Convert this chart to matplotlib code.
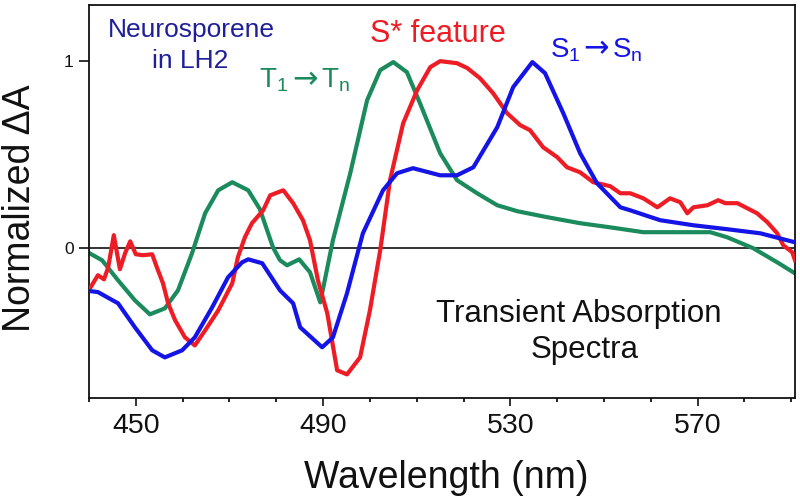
import matplotlib

matplotlib.use("Agg")

import matplotlib.pyplot as plt
from matplotlib.ticker import FixedLocator, MultipleLocator

# Transient absorption spectra of neurosporene in LH2
s1_nm = [440.0, 441.9, 446.2, 449.8, 453.5, 456.2, 459.9, 462.6, 466.3, 469.7,
         472.7, 474.0, 477.0, 480.8, 483.6, 485.1, 489.8, 492.1, 495.1, 498.5,
         502.8, 505.8, 509.2, 515.0, 518.6, 522.1, 527.2, 530.6, 534.7, 537.4,
         541.3, 544.9, 548.5, 553.5, 555.6, 562.0, 569.1, 576.3, 583.4, 590.8]
s1_da = [-0.228, -0.234, -0.294, -0.422, -0.545, -0.583, -0.545, -0.476, -0.316, -0.155,
         -0.075, -0.059, -0.080, -0.225, -0.294, -0.422, -0.529, -0.476, -0.241, 0.080,
         0.310, 0.401, 0.428, 0.390, 0.390, 0.433, 0.647, 0.861, 0.995, 0.936,
         0.722, 0.508, 0.348, 0.219, 0.203, 0.150, 0.123, 0.102, 0.080, 0.032]

t1_nm = [440.0, 442.8, 446.2, 449.8, 453.0, 456.2, 459.0, 462.0, 464.8, 467.6,
         470.6, 474.0, 476.5, 479.3, 480.8, 482.3, 484.9, 487.2, 489.4, 492.1,
         495.8, 499.4, 502.2, 505.0, 507.9, 510.7, 515.0, 518.6, 522.9, 527.2,
         531.5, 537.9, 544.9, 551.3, 558.4, 565.6, 572.7, 576.3, 581.9, 587.0, 590.8]
t1_da = [-0.025, -0.064, -0.171, -0.278, -0.353, -0.321, -0.225, -0.027, 0.187, 0.310,
         0.353, 0.310, 0.209, 0.005, -0.064, -0.091, -0.059, -0.128, -0.289, 0.043,
         0.401, 0.791, 0.952, 0.995, 0.941, 0.775, 0.508, 0.364, 0.294, 0.230,
         0.198, 0.166, 0.134, 0.112, 0.086, 0.086, 0.086, 0.059, 0.000, -0.075, -0.134]

sstar_nm = [440.2, 441.9, 443.2, 444.1, 445.3, 446.6, 447.7, 448.8, 450.0, 451.5,
            453.5, 454.5, 455.8, 456.9, 458.4, 460.5, 462.6, 464.8, 467.6, 470.6,
            471.8, 473.3, 474.8, 477.2, 478.7, 481.5, 483.6, 485.7, 487.2, 488.9,
            490.9, 493.0, 495.1, 497.9, 500.0, 502.2, 504.3, 507.1, 510.1, 512.9,
            515.0, 518.6, 520.8, 523.5, 526.3, 529.3, 532.1, 534.2, 537.0, 540.0,
            542.1, 544.9, 547.7, 551.3, 553.5, 555.6, 558.4, 561.4, 564.1, 566.3,
            567.8, 569.1, 572.1, 574.4, 575.9, 578.5, 580.6, 582.7, 584.9, 587.0,
            588.3, 590.2, 590.8]
sstar_da = [-0.214, -0.144, -0.166, -0.102, 0.070, -0.112, -0.027, 0.037, -0.032, -0.037,
            -0.032, -0.102, -0.187, -0.294, -0.385, -0.476, -0.519, -0.439, -0.332, -0.187,
            -0.048, 0.059, 0.134, 0.203, 0.283, 0.310, 0.241, 0.150, 0.043, -0.171,
            -0.348, -0.652, -0.674, -0.583, -0.332, -0.011, 0.364, 0.668, 0.845, 0.968,
            1.000, 0.989, 0.963, 0.909, 0.829, 0.722, 0.658, 0.631, 0.540, 0.487,
            0.433, 0.406, 0.353, 0.332, 0.294, 0.294, 0.267, 0.219, 0.267, 0.246,
            0.187, 0.219, 0.230, 0.257, 0.241, 0.241, 0.214, 0.187, 0.139, 0.080,
            0.016, -0.021, -0.064]

X_TICKS = [450, 490, 530, 570]
Y_TICKS = [0, 1]

RED = "#ee1c24"
BLUE = "#1414e6"
GREEN = "#1b8a5c"
NAVY = "#1f1f99"
INK = "#111111"

plt.rcParams["font.family"] = ["Liberation Sans", "DejaVu Sans"]
plt.rcParams["mathtext.fontset"] = "custom"
plt.rcParams["mathtext.rm"] = "Liberation Sans"
plt.rcParams["mathtext.it"] = "Liberation Sans:italic"
plt.rcParams["mathtext.default"] = "regular"


def px(x, y):
    # pixel position in the 800x504 canvas -> figure fraction
    return x / 800, 1 - y / 504


def transition_label(x, y, letter, color):
    # "X1 -> Xn" with a long arrow taken from DejaVu Sans
    fig.text(*px(x, y), f"{letter}$_{{1}}$", fontsize=20, color=color,
             ha="left", va="baseline")
    fig.text(*px(x + 46, y), "\u2192", fontsize=22, color=color,
             family="DejaVu Sans", ha="center", va="baseline")
    fig.text(*px(x + 62, y), f"{letter}$_{{n}}$", fontsize=20, color=color,
             ha="left", va="baseline")


fig = plt.figure(figsize=(8, 5.04), dpi=100, facecolor="white")
ax = fig.add_axes([89 / 800, 1 - 398 / 504, 706 / 800, 393 / 504])

ax.axhline(0, color=INK, linewidth=1.2, zorder=1)
ax.plot(sstar_nm, sstar_da, color=RED, linewidth=3, solid_joinstyle="round", zorder=3)
ax.plot(t1_nm, t1_da, color=GREEN, linewidth=3, solid_joinstyle="round", zorder=2)
ax.plot(s1_nm, s1_da, color=BLUE, linewidth=3, solid_joinstyle="round", zorder=4)

ax.set_xlim(440, 590.8)
ax.set_ylim(-0.8, 1.3)
ax.xaxis.set_major_locator(FixedLocator(X_TICKS))
ax.xaxis.set_minor_locator(MultipleLocator(10))
ax.yaxis.set_major_locator(FixedLocator(Y_TICKS))
ax.tick_params(axis="x", which="major", direction="out", length=6, width=1.2,
               labelsize=20.5, pad=5, colors=INK)
ax.tick_params(axis="x", which="minor", direction="out", length=3, width=1.2)
ax.tick_params(axis="y", which="major", direction="out", length=7, width=1.2,
               labelsize=12.5, pad=4, colors=INK)
for spine in ax.spines.values():
    spine.set_linewidth(1.3)
    spine.set_color(INK)

fig.text(*px(446, 478), "Wavelength (nm)", fontsize=27, ha="center", va="center",
         color=INK)
fig.text(*px(20, 208), "Normalized \u0394A", fontsize=27, rotation=90,
         ha="center", va="center", color=INK)

fig.text(*px(191, 37), "Neurosporene", fontsize=19, color=NAVY, ha="center",
         va="baseline")
fig.text(*px(190, 68), "in LH2", fontsize=19, color=NAVY, ha="center",
         va="baseline")
fig.text(*px(438, 42), "S* feature", fontsize=22, color=RED, ha="center",
         va="baseline")
transition_label(259, 88, "T", GREEN)
transition_label(550, 57, "S", BLUE)
fig.text(*px(579, 322), "Transient Absorption", fontsize=22.5, color=INK,
         ha="center", va="baseline")
fig.text(*px(585, 358), "Spectra", fontsize=22.5, color=INK, ha="center",
         va="baseline")

fig.savefig("out.png", dpi=100, facecolor="white")
